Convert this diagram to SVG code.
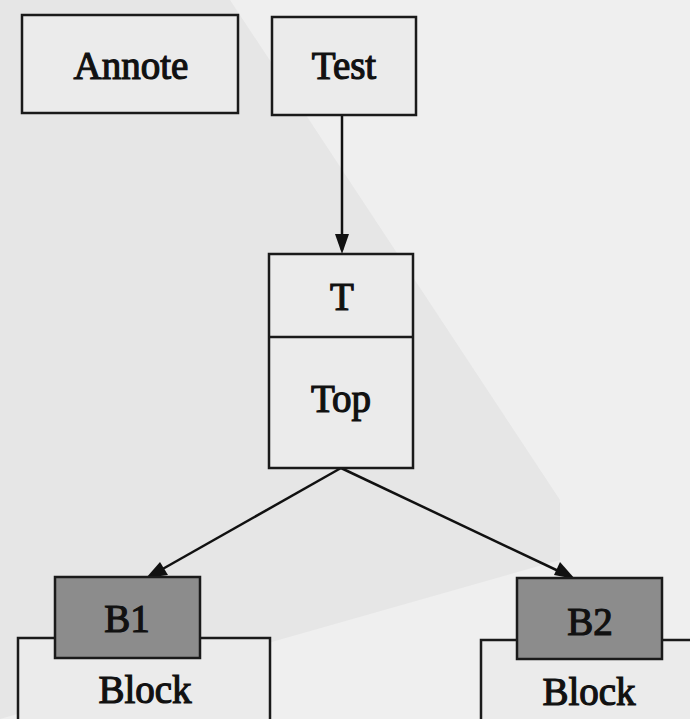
<svg xmlns="http://www.w3.org/2000/svg" width="690" height="719" viewBox="0 0 690 719">
  <defs>
    <style>
      .box { fill: #ebebeb; stroke: #1a1a1a; stroke-width: 2.5; }
      .dark { fill: #8c8c8c; stroke: #1a1a1a; stroke-width: 2.5; }
      .lbl { font-family: "Liberation Serif", "Times New Roman", serif; font-size: 39px; fill: #111; stroke: #111; stroke-width: 1.2; text-anchor: middle; }
      .edge { stroke: #111; stroke-width: 2.5; fill: none; }
      .head { fill: #111; }
    </style>
  </defs>

  <!-- paper background -->
  <rect x="0" y="0" width="690" height="719" fill="#efefef"/>
  <polygon points="0,0 230,0 560,500 560,560 0,719" fill="#e6e6e6"/>

  <!-- connectors -->
  <g id="connectors">
    <line class="edge" x1="342" y1="115" x2="342" y2="250"/>
    <path class="head" d="M335,234 L342,254 L349,234 z"/>
    <line class="edge" x1="341" y1="468" x2="152" y2="575"/>
    <path class="head" d="M146,578 L160,562 L168,575 z"/>
    <line class="edge" x1="341" y1="468" x2="569" y2="576"/>
    <path class="head" d="M575,579 L554,575 L560,562 z"/>
  </g>

  <g id="annote">
    <rect class="box" x="22" y="15" width="216" height="98"/>
    <text class="lbl" x="131" y="79">Annote</text>
  </g>

  <g id="test">
    <rect class="box" x="272" y="17" width="144" height="98"/>
    <text class="lbl" x="344" y="79">Test</text>
  </g>

  <g id="top">
    <rect class="box" x="269" y="254" width="144" height="214"/>
    <line x1="269" y1="337" x2="413" y2="337" stroke="#1a1a1a" stroke-width="2.5"/>
    <text class="lbl" x="342" y="310">T</text>
    <text class="lbl" x="341" y="412">Top</text>
  </g>

  <g id="block1">
    <rect class="box" x="18" y="638" width="252" height="100"/>
    <rect class="dark" x="55" y="577" width="145" height="81"/>
    <text class="lbl" x="127" y="632">B1</text>
    <text class="lbl" x="145" y="703">Block</text>
  </g>

  <g id="block2">
    <rect class="box" x="481" y="640" width="240" height="100"/>
    <rect class="dark" x="517" y="578" width="145" height="81"/>
    <text class="lbl" x="590" y="635">B2</text>
    <text class="lbl" x="589" y="705">Block</text>
  </g>
</svg>
